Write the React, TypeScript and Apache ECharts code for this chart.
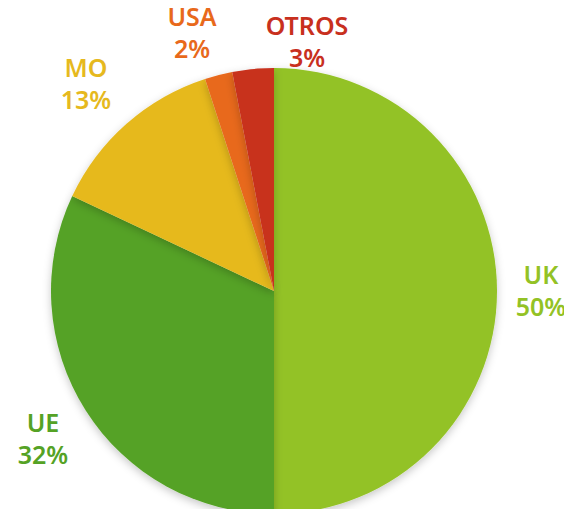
import React, { useEffect, useRef } from "react";
import * as echarts from "echarts";

const categories = ["UK", "UE", "MO", "USA", "OTROS"];
const values = [50, 32, 13, 2, 3];
const colors = ["#93C225", "#55A225", "#E6B91E", "#E8691B", "#C8301E"];
// label anchor positions (px) in chart space
const labelPos: [number, number][] = [
  [541, 290],
  [43, 438],
  [86, 83],
  [192, 32],
  [307, 41],
];

export default function App() {
  const ref = useRef<HTMLDivElement>(null);
  useEffect(() => {
    if (!ref.current) return;
    const chart = echarts.init(ref.current, null, { renderer: "svg" });
    chart.setOption({
      animation: false,
      backgroundColor: "#ffffff",
      series: [
        {
          type: "pie",
          center: [274, 291],
          radius: 223,
          startAngle: 90,
          clockwise: true,
          silent: true,
          data: categories.map((c, i) => ({
            name: c,
            value: values[i],
            itemStyle: { color: colors[i] },
            label: { color: colors[i] },
          })),
          itemStyle: {
            borderWidth: 0,
            shadowBlur: 8,
            shadowColor: "rgba(0,0,0,0.22)",
            shadowOffsetY: 3,
          },
          label: {
            show: true,
            position: "inside",
            formatter: (p: any) => `${p.name}\n${p.value}%`,
            fontFamily: "Noto Sans",
            fontWeight: 600,
            fontSize: 25,
            lineHeight: 32,
            align: "center",
            overflow: "none",
          },
          labelLine: { show: false },
          labelLayout: (params: any) => {
            const [x, y] = labelPos[params.dataIndex];
            return { x, y, align: "center", verticalAlign: "middle" };
          },
        },
      ],
    });
    return () => chart.dispose();
  }, []);
  return <div ref={ref} style={{ width: 572, height: 517, margin: -8 }} />;
}
